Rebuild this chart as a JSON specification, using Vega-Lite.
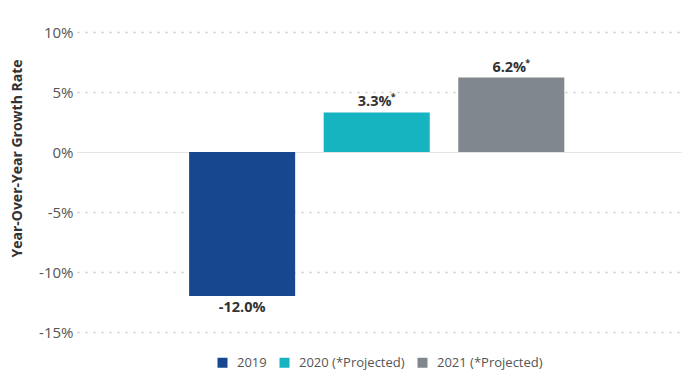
{
  "$schema": "https://vega.github.io/schema/vega-lite/v6.json",
  "width": 604,
  "height": 300,
  "autosize": "none",
  "padding": {"left": 77, "top": 32, "right": 15, "bottom": 53},
  "background": "white",
  "config": {
    "font": "Open Sans",
    "view": {"stroke": null},
    "legend": {"layout": {"bottom": {"anchor": "middle"}}}
  },
  "data": {
    "values": [
      {"year": "2019", "legend": "2019", "value": -12.0, "label": "-12.0%", "star": ""},
      {"year": "2020", "legend": "2020 (*Projected)", "value": 3.3, "label": "3.3%", "star": "*"},
      {"year": "2021", "legend": "2021 (*Projected)", "value": 6.2, "label": "6.2%", "star": "*"}
    ]
  },
  "encoding": {
    "x": {
      "field": "year",
      "type": "nominal",
      "scale": {"paddingInner": 0.212, "paddingOuter": 0.85, "align": 0.49},
      "axis": null
    },
    "y": {
      "field": "value",
      "type": "quantitative",
      "scale": {"domain": [-15, 10], "nice": false, "zero": false},
      "axis": {
        "values": [-15, -10, -5, 0, 5, 10],
        "labelExpr": "datum.value + '%'",
        "title": "Year-Over-Year Growth Rate",
        "titleFontWeight": "bold",
        "titleFontSize": 14,
        "titleColor": "#333333",
        "titleX": -53,
        "titleY": 126,
        "titleAngle": -90,
        "labelFontSize": 15,
        "labelColor": "#555555",
        "labelPadding": 4,
        "domain": false,
        "ticks": false,
        "grid": true,
        "gridColor": {"condition": {"test": "datum.value === 0", "value": "#e4e4e4"}, "value": "#c8c8c8"},
        "gridDash": {"condition": {"test": "datum.value === 0", "value": []}, "value": [2, 6]},
        "gridWidth": {"condition": {"test": "datum.value === 0", "value": 1.2}, "value": 1.5}
      }
    }
  },
  "layer": [
    {
      "mark": {"type": "bar"},
      "encoding": {
        "color": {
          "field": "legend",
          "type": "nominal",
          "scale": {
            "domain": ["2019", "2020 (*Projected)", "2021 (*Projected)"],
            "range": ["#17478e", "#16b3c0", "#80878e"]
          },
          "legend": {
            "orient": "bottom",
            "direction": "horizontal",
            "title": null,
            "symbolType": "square",
            "symbolSize": 100,
            "symbolStrokeWidth": 0,
            "labelFontSize": 13,
            "labelColor": "#555555",
            "columnPadding": 11,
            "labelOffset": 8,
            "offset": 24
          }
        }
      }
    },
    {
      "transform": [{"filter": "datum.value < 0"}],
      "mark": {"type": "text", "baseline": "top", "dy": 5, "fontSize": 14.5, "fontWeight": "bold", "color": "#333333"},
      "encoding": {"text": {"field": "label"}}
    },
    {
      "transform": [{"filter": "datum.value >= 0"}],
      "mark": {"type": "text", "baseline": "bottom", "dy": -3, "dx": -2, "fontSize": 14.5, "fontWeight": "bold", "color": "#333333"},
      "encoding": {"text": {"field": "label"}}
    },
    {
      "transform": [{"filter": "datum.value >= 0"}],
      "mark": {"type": "text", "baseline": "bottom", "align": "left", "dy": -10, "dx": 14, "fontSize": 9, "fontWeight": "bold", "color": "#333333"},
      "encoding": {"text": {"field": "star"}}
    }
  ]
}
